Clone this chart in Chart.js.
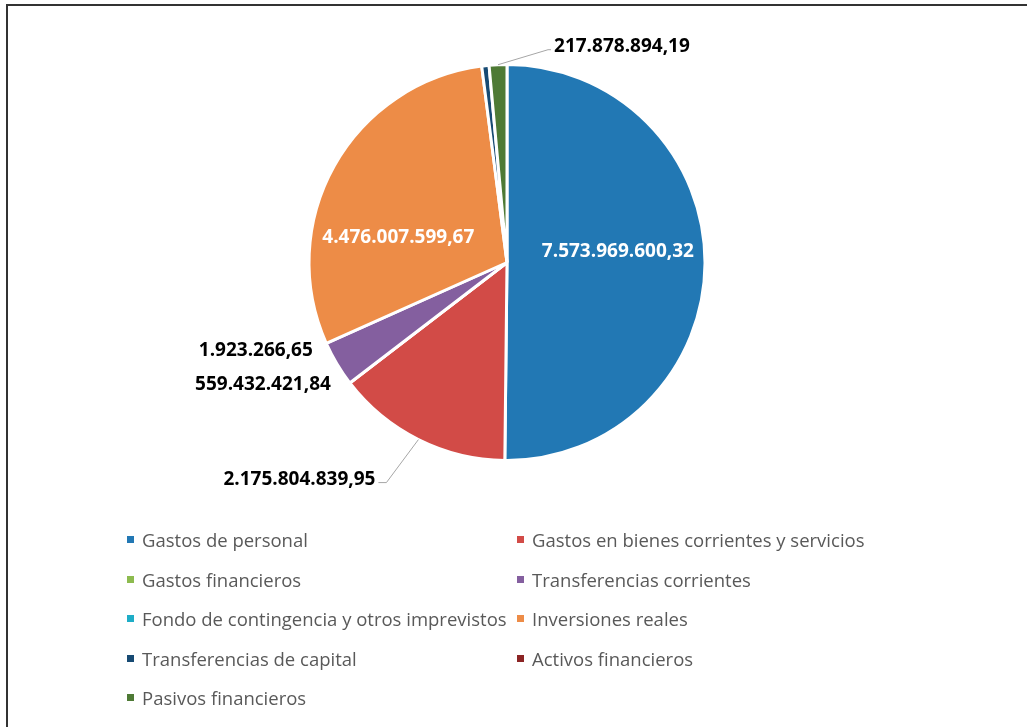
<!DOCTYPE html>
<html>
<head>
<meta charset="utf-8">
<script src="https://cdn.jsdelivr.net/npm/chart.js@4"></script>
<style>
  html, body { margin: 0; padding: 0; background: #fff; overflow: hidden; }
  #frame { position: absolute; left: 6px; top: 4px; width: 1100px; height: 800px; border: 2px solid #333; }
  #wrap { position: absolute; left: 0; top: 0; width: 1027px; height: 727px; }
  #legend { position: absolute; left: 127px; top: 526px; display: grid; grid-template-columns: 390px 390px; row-gap: 12.6px;
            font-family: "Open Sans", sans-serif; font-size: 18.5px; color: #595959; }
  .item { display: flex; align-items: center; height: 27px; white-space: nowrap; }
  .box { width: 7px; height: 7px; margin-right: 8px; flex: none; }
</style>
</head>
<body>
<div id="frame"></div>
<div id="wrap"><canvas id="myChart"></canvas></div>
<div id="legend"></div>
<script>
const categories = [
    'Gastos de personal',
    'Gastos en bienes corrientes y servicios',
    'Gastos financieros',
    'Transferencias corrientes',
    'Fondo de contingencia y otros imprevistos',
    'Inversiones reales',
    'Transferencias de capital',
    'Activos financieros',
    'Pasivos financieros'
];
const values = [7573969600.32, 2175804839.95, 1923266.65, 559432421.84, 0, 4476007599.67, 90000000, 0, 217878894.19];
const colors = ['#2278b4', '#d24b47', '#8dbb4f', '#845f9f', '#1eadc7', '#ed8c47', '#174a73', '#8b2424', '#4e7a35'];

// how each value label is placed (null = no label)
const labelStyle = [
    { inside: true, f: 0.56, dx: 0, dy: -12, color: '#fff' },
    { edge: true, ex: -32, ey: 43, hx: -8, align: 'right', color: '#000' },
    { edge: true, dx: -37, dy: -32, align: 'right', color: '#000' },
    { edge: true, dx: -6, dy: 21, align: 'right', color: '#000' },
    null,
    { inside: true, f: 0.56, dx: -12, dy: 29, color: '#fff' },
    null,
    null,
    { edge: true, ex: 50, ey: -15, hx: 3, align: 'left', color: '#000' }
];

const fmt = (v) => {
    let parts = v.toFixed(2).split('.');
    let ent = parts[0].replace(/\B(?=(\d{3})+(?!\d))/g, '.');
    return ent + ',' + parts[1];
};

const valueLabels = {
    id: 'valueLabels',
    afterDatasetsDraw(chart) {
        const c = chart.ctx;
        const arcs = chart.getDatasetMeta(0).data;
        c.save();
        c.font = 'bold 19px "Open Sans"';
        c.textBaseline = 'middle';
        arcs.forEach((arc, i) => {
            const st = labelStyle[i];
            if (!st) return;
            const mid = (arc.startAngle + arc.endAngle) / 2;
            const r = arc.outerRadius;
            const txt = fmt(values[i]);
            c.fillStyle = st.color;
            if (st.inside) {
                c.textAlign = 'center';
                c.fillText(txt, arc.x + Math.cos(mid) * r * st.f + st.dx, arc.y + Math.sin(mid) * r * st.f + st.dy);
                return;
            }
            const px = arc.x + Math.cos(mid) * r;
            const py = arc.y + Math.sin(mid) * r;
            c.textAlign = st.align;
            if (st.ex !== undefined) {
                const ex = px + st.ex, ey = py + st.ey;
                c.strokeStyle = '#a6a6a6';
                c.lineWidth = 1;
                c.beginPath();
                c.moveTo(px, py);
                c.lineTo(ex, ey);
                c.lineTo(ex + st.hx, ey);
                c.stroke();
                const gap = st.align === 'left' ? 3 : -3;
                c.fillText(txt, ex + st.hx + gap, ey - 3);
            } else {
                c.fillText(txt, px + st.dx, py + st.dy);
            }
        });
        c.restore();
    }
};

const ctx = document.getElementById('myChart');
new Chart(ctx, {
    type: 'pie',
    data: {
        labels: categories,
        datasets: [{
            data: values,
            backgroundColor: colors,
            borderColor: '#fff',
            borderWidth: 3,
            hoverOffset: 0
        }]
    },
    options: {
        responsive: true,
        maintainAspectRatio: false,
        animation: false,
        layout: { padding: { top: 63, bottom: 265, left: 0, right: 13 } },
        plugins: {
            legend: { display: false },
            tooltip: { enabled: false }
        }
    },
    plugins: [valueLabels]
});

// legend in two columns
const legend = document.getElementById('legend');
categories.forEach((name, i) => {
    const item = document.createElement('div');
    item.className = 'item';
    const box = document.createElement('span');
    box.className = 'box';
    box.style.background = colors[i];
    const t = document.createElement('span');
    t.textContent = name;
    item.appendChild(box);
    item.appendChild(t);
    legend.appendChild(item);
});
</script>
</body>
</html>
